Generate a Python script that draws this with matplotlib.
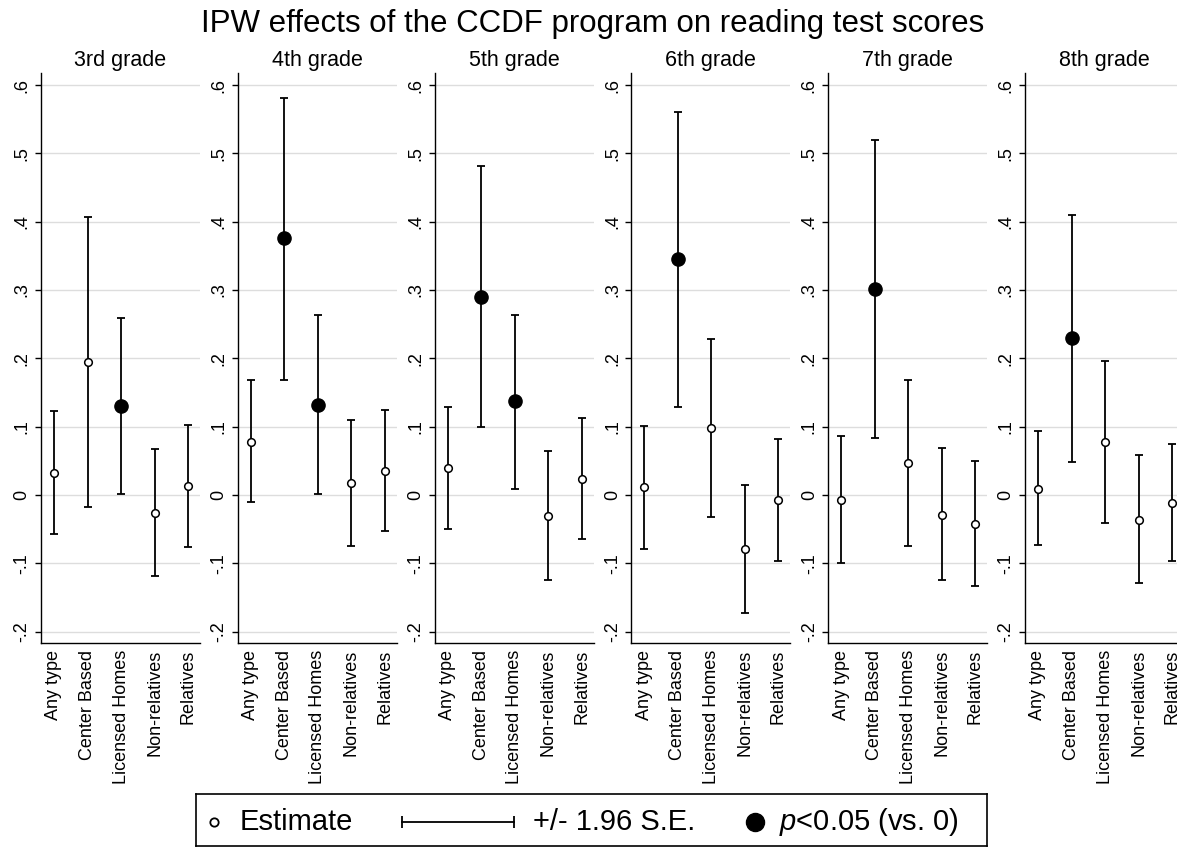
import numpy as np
import matplotlib
matplotlib.use("Agg")
import matplotlib.pyplot as plt

plt.rcParams['font.family'] = ['Liberation Sans', 'DejaVu Sans']
plt.rcParams['mathtext.fontset'] = 'custom'
plt.rcParams['mathtext.rm'] = 'Liberation Sans'
plt.rcParams['mathtext.it'] = 'Liberation Sans:italic'

# datos
grades = ["3rd grade", "4th grade", "5th grade", "6th grade", "7th grade", "8th grade"]
care_types = ["Any type", "Center Based", "Licensed Homes", "Non-relatives", "Relatives"]

est = [
    [0.032, 0.195, 0.130, -0.026, 0.013],
    [0.078, 0.376, 0.132, 0.017, 0.035],
    [0.040, 0.290, 0.137, -0.031, 0.024],
    [0.011, 0.345, 0.098, -0.079, -0.008],
    [-0.008, 0.302, 0.047, -0.029, -0.042],
    [0.009, 0.230, 0.077, -0.036, -0.012],
]
ci_lo = [
    [-0.057, -0.017, 0.002, -0.118, -0.076],
    [-0.010, 0.169, 0.001, -0.074, -0.053],
    [-0.050, 0.099, 0.009, -0.125, -0.065],
    [-0.079, 0.129, -0.032, -0.172, -0.097],
    [-0.100, 0.083, -0.074, -0.125, -0.133],
    [-0.073, 0.048, -0.041, -0.129, -0.096],
]
ci_hi = [
    [0.123, 0.407, 0.259, 0.067, 0.103],
    [0.168, 0.581, 0.264, 0.110, 0.125],
    [0.129, 0.481, 0.264, 0.064, 0.112],
    [0.101, 0.560, 0.228, 0.015, 0.082],
    [0.087, 0.520, 0.169, 0.069, 0.050],
    [0.094, 0.410, 0.196, 0.059, 0.075],
]
yticks = [-0.2, -0.1, 0, 0.1, 0.2, 0.3, 0.4, 0.5, 0.6]
ytick_labels = ["-.2", "-.1", "0", ".1", ".2", ".3", ".4", ".5", ".6"]

W, H = 1177, 847
fig = plt.figure(figsize=(W / 100, H / 100), dpi=100)

fig.text(593 / W, 1 - 32 / H, "IPW effects of the CCDF program on reading test scores",
         ha='center', va='baseline', fontsize=22.5)

x = np.arange(1, len(care_types) + 1)
ax_bottom = 1 - 643 / H
ax_height = 570 / H
ax_w = 159 / W

for i, g in enumerate(grades):
    left = (41 + i * 196.8) / W
    ax = fig.add_axes([left, ax_bottom, ax_w, ax_height])

    e = np.array(est[i])
    lo = np.array(ci_lo[i])
    hi = np.array(ci_hi[i])
    sig = (lo > 0) | (hi < 0)

    ax.errorbar(x, e, yerr=[e - lo, hi - e], fmt='none', ecolor='black',
                elinewidth=1.3, capsize=3.0, capthick=1.3, zorder=3)
    ax.plot(x[~sig], e[~sig], 'o', mfc='white', mec='black', ms=5.5, mew=1.1, zorder=4)
    ax.plot(x[sig], e[sig], 'o', color='black', ms=9.5, zorder=4)

    ax.set_xlim(0.612, 5.358)
    ax.set_ylim(-0.2166, 0.6176)
    ax.set_yticks(yticks)
    ax.set_yticklabels(ytick_labels, rotation=90, va='center', fontsize=13)
    ax.set_xticks(x)
    ax.set_xticklabels(care_types, rotation=90, fontsize=13)
    ax.tick_params(axis='x', length=0, pad=5)
    ax.tick_params(axis='y', length=4.5, width=1.0, pad=3)
    ax.grid(axis='y', color='#dddddd', lw=1.0, zorder=0)
    ax.set_axisbelow(True)
    for s in ['top', 'right']:
        ax.spines[s].set_visible(False)
    for s in ['left', 'bottom']:
        ax.spines[s].set_linewidth(1.0)
    ax.text(0.5, 1 + 7 / 570, g, transform=ax.transAxes, ha='center', va='baseline', fontsize=15.5)

# leyenda dibujada a mano
lx0, lx1, ly0, ly1 = 196, 987, 794, 846
lax = fig.add_axes([lx0 / W, 1 - ly1 / H, (lx1 - lx0) / W, (ly1 - ly0) / H])
lax.set_xlim(0, lx1 - lx0)
lax.set_ylim(0, 1)
lax.set_xticks([])
lax.set_yticks([])
for s in lax.spines.values():
    s.set_linewidth(1.2)
yc = 0.47
lax.plot([214 - lx0], [yc], 'o', mfc='white', mec='black', ms=6, mew=1.3)
lax.text(240 - lx0, yc, "Estimate", va='center', ha='left', fontsize=21)
lax.plot([402 - lx0, 514 - lx0], [yc, yc], color='black', lw=1.3)
lax.plot([402 - lx0, 514 - lx0], [yc, yc], '|', color='black', ms=9, mew=1.3)
lax.text(533 - lx0, yc, "+/- 1.96 S.E.", va='center', ha='left', fontsize=21)
lax.plot([755 - lx0], [yc], 'o', color='black', ms=13)
lax.text(779 - lx0, yc, r"$p$<0.05 (vs. 0)", va='center', ha='left', fontsize=21)

fig.savefig("out.png", dpi=100)
